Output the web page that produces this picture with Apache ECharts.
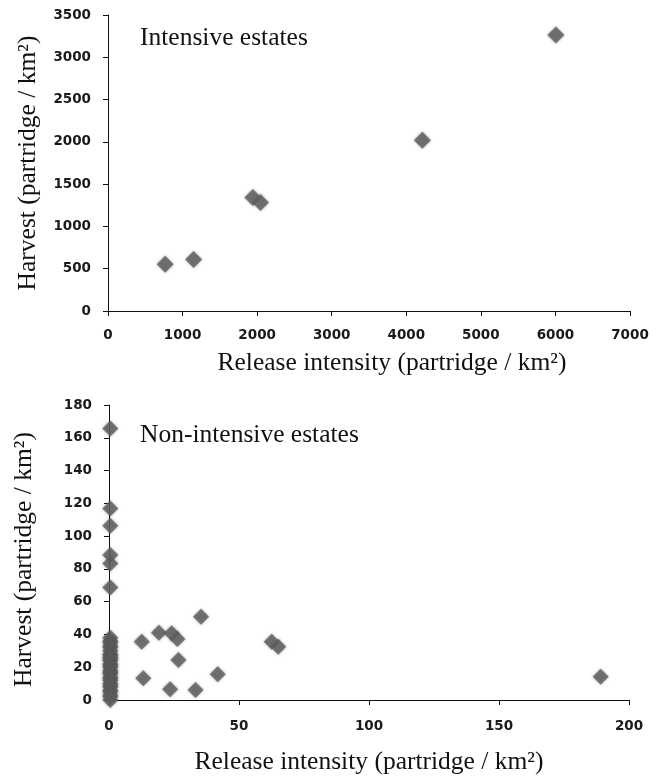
<!DOCTYPE html>
<html>
<head>
<meta charset="utf-8">
<script src="https://cdn.jsdelivr.net/npm/echarts@6/dist/echarts.min.js"></script>
<style>
html,body{margin:0;padding:0;background:#fff;}
#c{width:660px;height:779px;}
</style>
</head>
<body>
<div id="c"></div>
<script>
// Intensive estates: release intensity (x) vs harvest (y)
const intensiveX = [767, 1148, 1943, 2045, 4216, 6006];
const intensiveY = [552, 608, 1342, 1282, 2020, 3263];

// Non-intensive estates
const nonIntX = [0.5, 0.5, 0.5, 0.5, 0.5, 0.5,
  0.5, 0.5, 0.5, 0.5, 0.5, 0.5, 0.5, 0.5, 0.5, 0.5, 0.5, 0.5, 0.5, 0.5,
  0.5, 0.5, 0.5, 0.5, 0.5, 0.5, 0.5, 0.5, 0.5, 0.5, 0.5, 0.5, 0.5, 0.5,
  12.6, 13.2, 19.2, 24.1, 26.3, 26.7, 23.5, 33.3, 35.4, 41.8, 62.6, 65.1, 189.1];
const nonIntY = [165.7, 116.9, 106.3, 88.4, 83.3, 68.7,
  38, 36, 35, 33, 32, 30, 28, 27, 26, 25, 24, 22, 21, 20,
  18, 17, 16, 14, 13, 12, 10, 9, 8, 6, 5, 3, 2, 0,
  35.5, 13.2, 41.0, 40.7, 37.2, 24.4, 6.5, 6.1, 50.8, 15.7, 35.5, 32.5, 14.2];

const topXTicks = [0, 7000, 1000];
const topYTicks = [0, 3500, 500];
const botXTicks = [0, 200, 50];
const botYTicks = [0, 180, 20];

const xName = 'Release intensity (partridge / km²)';
const yName = 'Harvest (partridge / km²)';
const titles = ['Intensive estates', 'Non-intensive estates'];

const serif = '"Liberation Serif", "DejaVu Serif", serif';
const labelStyle = {color: '#1a1a1a', fontFamily: '"DejaVu Sans", sans-serif', fontWeight: 'bold', fontSize: 13.5,
  formatter: v => String(v)};

function xAxisCfg(idx, ticks, gap, margin, pad) {
  return {
    type: 'value', gridIndex: idx, min: ticks[0], max: ticks[1], interval: ticks[2],
    name: xName, nameLocation: 'middle', nameGap: gap,
    nameTextStyle: {fontFamily: serif, fontSize: 25.5, color: '#111', padding: pad},
    axisLine: {show: true, lineStyle: {color: '#111', width: 1}},
    axisTick: {show: true, inside: false, length: 5, lineStyle: {color: '#111'}},
    axisLabel: Object.assign({margin: margin}, labelStyle),
    splitLine: {show: false}
  };
}
function yAxisCfg(idx, ticks, gap, pad) {
  return {
    type: 'value', gridIndex: idx, min: ticks[0], max: ticks[1], interval: ticks[2],
    name: yName, nameLocation: 'middle', nameGap: gap, nameRotate: 90,
    nameTextStyle: {fontFamily: serif, fontSize: 25.5, color: '#111', padding: pad},
    axisLine: {show: true, lineStyle: {color: '#111', width: 1}},
    axisTick: {show: true, inside: false, length: 5, lineStyle: {color: '#111'}},
    axisLabel: Object.assign({margin: 17}, labelStyle),
    splitLine: {show: false}
  };
}

const markerStyle = {color: '#5c5c5c', shadowBlur: 3, shadowColor: 'rgba(80,80,80,0.6)'};

const chart = echarts.init(document.getElementById('c'), null, {renderer: 'canvas'});
chart.setOption({
  animation: false,
  backgroundColor: '#fff',
  title: [
    {text: titles[0], left: 135, top: 20, textStyle: {fontFamily: serif, fontSize: 25.5, fontWeight: 'normal', color: '#111'}},
    {text: titles[1], left: 135, top: 417, textStyle: {fontFamily: serif, fontSize: 25.5, fontWeight: 'normal', color: '#111'}}
  ],
  grid: [
    {left: 108, right: 30, top: 15, height: 296},
    {left: 109, right: 31, top: 405, height: 295}
  ],
  xAxis: [xAxisCfg(0, topXTicks, 39, 17, [0, 0, 0, 46]), xAxisCfg(1, botXTicks, 49, 19, [0, 0, 0, 0])],
  yAxis: [yAxisCfg(0, topYTicks, 67, [0, 0, 0, 0]), yAxisCfg(1, botYTicks, 72, [0, 14, 0, 0])],
  series: [
    {type: 'scatter', xAxisIndex: 0, yAxisIndex: 0, symbol: 'diamond', symbolSize: 17,
     itemStyle: markerStyle, data: intensiveX.map((x, i) => [x, intensiveY[i]])},
    {type: 'scatter', xAxisIndex: 1, yAxisIndex: 1, symbol: 'diamond', symbolSize: 16,
     itemStyle: markerStyle, data: nonIntX.map((x, i) => [x, nonIntY[i]])}
  ]
});
</script>
</body>
</html>
